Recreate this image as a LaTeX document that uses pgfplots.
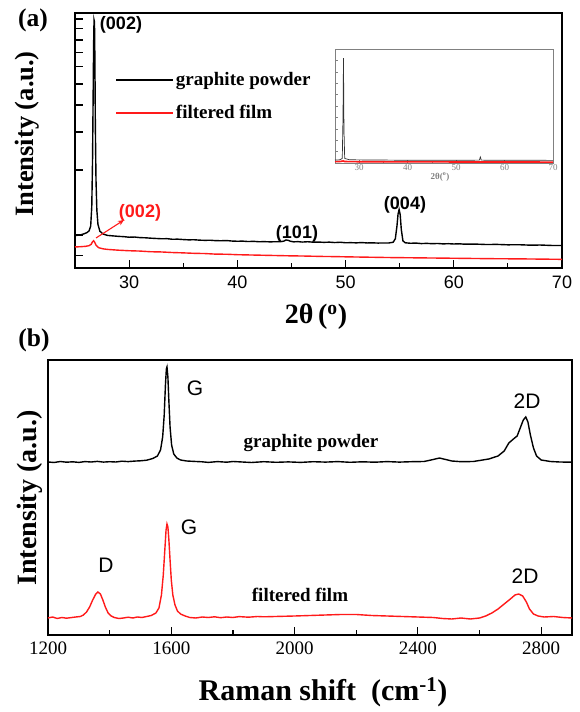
\documentclass[border=0pt]{standalone}
\usepackage{pgfplots}
\pgfplotsset{compat=1.18}
\usepackage{fontspec}
\setmainfont{Liberation Serif}
\newfontfamily\arial{Liberation Sans}
\usetikzlibrary{arrows.meta}
\definecolor{xrdred}{HTML}{FF1A1A}
\begin{document}
\begin{tikzpicture}
\useasboundingbox (0,0) rectangle (579pt,712pt);
\pgfplotsset{every axis/.append style={
    scale only axis, clip=false,
    axis line style={line width=1.4pt},
    tick style={line width=1.2pt, black},
    tick align=inside, major tick length=8pt, minor tick length=5pt,
    xtick pos=bottom, ytick pos=left,
    /pgf/number format/1000 sep={},
    /pgf/number format/assume math mode=true}}
% ---------- (a) XRD ----------
\begin{axis}[at={(75pt,444pt)}, anchor=south west, width=487pt, height=255pt,
  xmin=25, xmax=70, ymode=log, ymin=0.703, ymax=10.66,
  xtick={30,40,50,60,70}, minor xtick={35,45,55,65},
  ytick={0.8,1,2,3,4,5,6,7,8,9,10}, yticklabel=\empty, minor ytick={},
  xticklabel style={font=\arial\fontsize{18}{18}\selectfont, yshift=-4pt},
  legend style={at={(axis description cs:0.082,0.775)}, anchor=north west,
    draw=none, fill=none, inner sep=0pt, row sep=14pt,
    font=\bfseries\fontsize{19}{19}\selectfont},
  legend cell align=left,
  legend image code/.code={\draw[#1, line width=1.8pt] (0pt,0pt) -- (57pt,0pt);}]
\addplot[black, line width=1.4pt] coordinates {(25,0.992) (25.3,0.998) (25.6,1.003) (25.9,1.015) (26.1,1.025) (26.3,1.044) (26.45,1.10) (26.55,1.35) (26.62,2.2) (26.68,4.6) (26.72,7.6) (26.76,9.9) (26.8,9.7) (26.84,6.4) (26.88,3.2) (26.94,1.8) (27.02,1.30) (27.12,1.12) (27.3,1.04) (27.6,1.01) (28,0.995) (28.5,0.99) (29,0.985) (29.5,0.982) (30,0.976) (30.5,0.978) (31,0.972) (31.5,0.970) (32,0.966) (32.5,0.963) (33,0.960) (33.5,0.961) (34,0.955) (34.5,0.956) (35,0.952) (35.5,0.949) (36,0.950) (36.5,0.946) (37,0.944) (37.5,0.945) (38,0.941) (38.5,0.940) (39,0.942) (39.5,0.937) (40,0.935) (40.5,0.936) (41,0.932) (41.5,0.934) (42,0.930) (42.5,0.931) (43,0.929) (43.5,0.930) (44,0.931) (44.3,0.936) (44.5,0.948) (44.7,0.944) (44.9,0.935) (45.2,0.929) (45.6,0.931) (46,0.927) (46.5,0.930) (47,0.926) (47.5,0.927) (48,0.924) (48.5,0.926) (49,0.922) (49.5,0.925) (50,0.920) (50.5,0.921) (51,0.919) (51.5,0.922) (52,0.918) (52.5,0.919) (53,0.917) (53.5,0.918) (54,0.918) (54.4,0.925) (54.6,0.96) (54.75,1.10) (54.85,1.25) (54.95,1.31) (55.05,1.24) (55.15,1.06) (55.3,0.94) (55.5,0.92) (56,0.915) (56.5,0.917) (57,0.912) (57.5,0.914) (58,0.911) (58.5,0.913) (59,0.909) (59.5,0.911) (60,0.908) (60.5,0.910) (61,0.906) (62,0.907) (63,0.903) (64,0.904) (65,0.900) (66,0.901) (67,0.897) (68,0.898) (69,0.894) (70,0.893)};
\addlegendentry{graphite powder}
\addplot[xrdred, line width=1.4pt] coordinates {(25,0.880) (25.5,0.882) (26,0.886) (26.3,0.892) (26.5,0.905) (26.62,0.930) (26.72,0.940) (26.82,0.925) (26.95,0.895) (27.2,0.872) (27.6,0.862) (28,0.857) (29,0.850) (30,0.845) (31,0.842) (32,0.836) (33,0.834) (34,0.829) (35,0.826) (36,0.822) (37,0.820) (38,0.815) (39,0.814) (40,0.810) (41,0.808) (42,0.806) (43,0.804) (44,0.802) (45,0.800) (46,0.799) (47,0.797) (48,0.795) (49,0.794) (50,0.792) (52,0.789) (54,0.786) (56,0.784) (58,0.782) (60,0.780) (62,0.778) (64,0.776) (66,0.775) (68,0.773) (70,0.771)};
\addlegendentry{filtered film}
\end{axis}
% ---------- inset ----------
\begin{axis}[at={(335pt,549pt)}, anchor=south west, width=218pt, height=114pt,
  axis background/.style={fill=white},
  axis line style={line width=0.6pt, gray},
  tick style={line width=0.5pt, gray}, major tick length=3pt, minor tick length=2pt,
  xmin=25, xmax=70, ymin=0, ymax=100,
  xtick={30,40,50,60,70}, minor xtick={35,45,55,65},
  ytick={10,20,30,40,50,60,70,80,90}, yticklabel=\empty,
  xticklabel style={font=\fontsize{9}{9}\selectfont, text=gray, yshift=2pt}]
\addplot[xrdred, line width=1.6pt] coordinates {(25,1.2) (26,1.3) (26.7,1.8) (27,1.3) (30,1.1) (40,1.0) (50,0.9) (60,0.9) (70,0.8)};
\addplot[black!80, line width=0.7pt] coordinates {(25,2.6) (26,2.8) (26.5,4) (26.65,40) (26.75,92) (26.85,30) (27,4) (28,2.8) (40,2.4) (54.8,2.5) (55,5.3) (55.2,2.5) (70,2.3)};
\end{axis}
\node[text=gray, font=\bfseries\fontsize{9}{9}\selectfont] at (440pt,535pt) {2θ(\textsuperscript{o})};
% ---------- (a) annotations ----------
\node[font=\bfseries\fontsize{25.5}{25.5}\selectfont] at (33pt,692pt) {(a)};
\node[rotate=90, font=\bfseries\fontsize{26.5}{26.5}\selectfont] at (27pt,578pt) {Intensity (a.u.)};
\node[font=\bfseries\fontsize{28}{28}\selectfont] at (316pt,395pt) {2θ\,(\textsuperscript{o})};
\node[font=\arial\bfseries\fontsize{18}{18}\selectfont] at (121pt,687pt) {(002)};
\node[text=xrdred, font=\arial\bfseries\fontsize{18}{18}\selectfont] at (140pt,499pt) {(002)};
\node[font=\arial\bfseries\fontsize{18}{18}\selectfont] at (297pt,478pt) {(101)};
\node[font=\arial\bfseries\fontsize{18}{18}\selectfont] at (405pt,507pt) {(004)};
\draw[xrdred, line width=1.1pt, -{Stealth[length=6pt,width=5pt]}] (96pt,474pt) -- (124pt,492pt);
% ---------- (b) Raman ----------
\begin{axis}[at={(48pt,77pt)}, anchor=south west, width=524pt, height=275pt,
  xmin=1200, xmax=2900, ymin=0, ymax=275,
  xtick={1200,1600,2000,2400,2800}, minor xtick={1400,1800,2200,2600},
  ytick=\empty,
  xticklabel style={font=\fontsize{19}{19}\selectfont, yshift=-3pt}]
\addplot[black, line width=1.4pt] coordinates {(1200,173) (1220,172.5) (1240,173.5) (1260,172.8) (1280,173.2) (1300,172.6) (1320,173.4) (1340,173) (1360,173.6) (1380,172.9) (1400,173.3) (1420,173) (1440,173.8) (1460,173.4) (1480,173.9) (1500,174.2) (1520,174.8) (1540,176.5) (1555,179) (1565,185) (1572,198) (1577,220) (1581,250) (1584,266) (1586,268) (1589,258) (1592,235) (1596,208) (1601,190) (1608,181) (1618,177) (1630,175) (1650,174) (1680,173.5) (1700,173.2) (1720,172.6) (1750,173.4) (1780,172.8) (1800,173.5) (1830,173) (1860,172.5) (1900,173.3) (1940,172.7) (1980,173.1) (2020,172.6) (2060,173.3) (2100,172.9) (2140,173.4) (2180,172.7) (2220,173.2) (2260,172.8) (2300,173.4) (2340,172.9) (2380,173.3) (2420,173.5) (2450,175.5) (2470,177) (2490,175.5) (2510,174) (2540,173.3) (2580,173.5) (2600,174.5) (2630,176) (2660,179) (2680,184) (2695,192) (2710,196) (2722,199) (2732,207) (2742,215) (2750,218) (2757,213) (2765,200) (2775,187) (2785,179) (2800,175) (2830,173.5) (2860,173) (2900,172.8)};
\addplot[xrdred, line width=1.4pt] coordinates {(1200,17) (1215,18) (1230,16.5) (1245,17.5) (1260,16.8) (1275,17.4) (1290,18) (1305,18.5) (1315,20) (1325,23) (1335,28) (1345,35) (1355,41) (1362,43) (1370,41) (1378,35) (1386,28) (1395,22) (1405,19) (1415,17.5) (1430,16.5) (1445,17) (1460,17.8) (1475,17) (1490,18) (1505,17.5) (1520,18.5) (1535,19.5) (1550,22) (1560,27) (1568,40) (1574,60) (1579,85) (1583,105) (1586,111) (1589,108) (1592,96) (1596,75) (1600,55) (1605,40) (1612,30) (1620,24) (1630,21) (1645,19) (1660,17.5) (1680,17) (1700,18) (1720,17.5) (1740,18.2) (1760,17.3) (1780,18) (1800,17.5) (1820,18.4) (1850,17.8) (1880,18.5) (1900,18.2) (1950,18.6) (2000,19) (2050,19.5) (2100,20) (2150,20.5) (2200,20.5) (2250,19.5) (2300,19) (2350,18.5) (2400,18) (2450,17.5) (2480,16.5) (2510,16) (2540,17) (2570,16) (2600,17) (2620,19) (2640,22) (2660,26) (2680,31) (2700,36) (2715,40) (2727,41) (2740,39) (2752,33) (2762,26) (2775,21) (2790,19) (2810,18) (2840,18.5) (2870,17.5) (2900,17)};
\end{axis}
\node[font=\bfseries\fontsize{25.5}{25.5}\selectfont] at (34pt,372pt) {(b)};
\node[rotate=90, font=\bfseries\fontsize{28}{28}\selectfont] at (30pt,214pt) {Intensity (a.u.)};
\node[font=\bfseries\fontsize{30}{30}\selectfont] at (323pt,20pt) {Raman shift\ \ (cm\textsuperscript{-1})};
\node[font=\arial\fontsize{21}{21}\selectfont] at (195pt,324pt) {G};
\node[font=\arial\fontsize{21}{21}\selectfont] at (189pt,185pt) {G};
\node[font=\arial\fontsize{21}{21}\selectfont] at (106pt,147pt) {D};
\node[font=\arial\fontsize{21}{21}\selectfont] at (527pt,311pt) {2D};
\node[font=\arial\fontsize{21}{21}\selectfont] at (525pt,136pt) {2D};
\node[font=\bfseries\fontsize{19}{19}\selectfont] at (311pt,269pt) {graphite powder};
\node[font=\bfseries\fontsize{19}{19}\selectfont] at (300pt,117pt) {filtered film};
\end{tikzpicture}
\end{document}
